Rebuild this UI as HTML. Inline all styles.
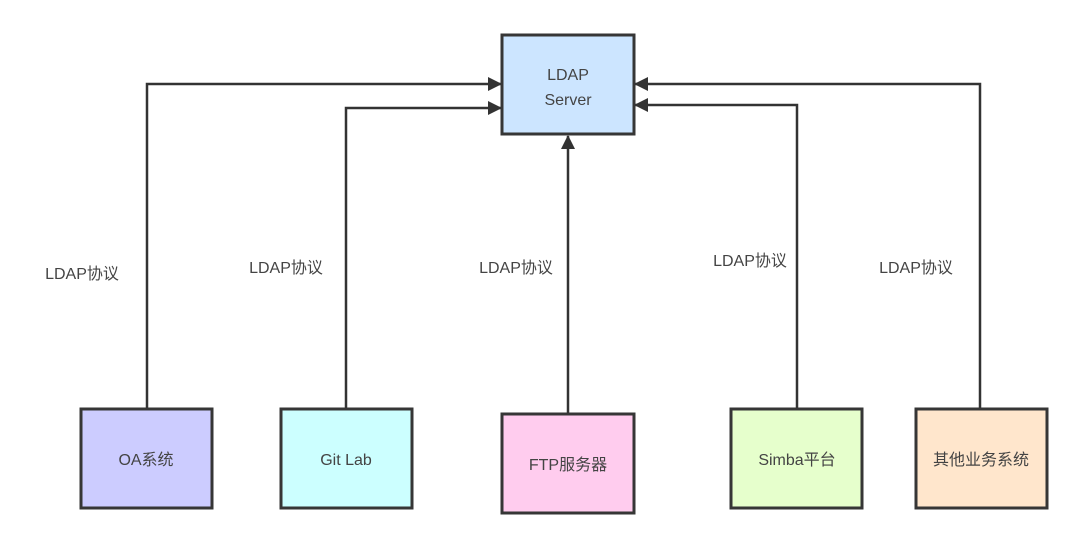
<!DOCTYPE html>
<html><head><meta charset="utf-8"><style>
body{margin:0;background:#fff;}
svg{display:block}
text{font-family:"Liberation Sans","Noto Sans CJK SC",sans-serif;font-size:16px;fill:#444;}
</style></head><body>
<svg width="1080" height="549" viewBox="0 0 1080 549">
<defs>
<marker id="b" viewBox="0 0 14 14" markerWidth="14" markerHeight="14" refX="13" refY="7" orient="auto" markerUnits="userSpaceOnUse"><path d="M0,0 L14,7 L0,14 Z" fill="#333"/></marker></defs>
<g stroke="#333" stroke-width="2.5" fill="none">
<path d="M147,409 V84 H501" marker-end="url(#b)"/>
<path d="M346,409 V108 H501" marker-end="url(#b)"/>
<path d="M568,413 V136" marker-end="url(#b)"/>
<path d="M797,409 V105 H635" marker-end="url(#b)"/>
<path d="M980,409 V84 H635" marker-end="url(#b)"/>
</g>
<g stroke="#363636" stroke-width="3">
<rect x="502" y="35" width="132" height="99" fill="#cce5ff"/>
<rect x="81" y="409" width="131" height="99" fill="#ccccff"/>
<rect x="281" y="409" width="131" height="99" fill="#ccffff"/>
<rect x="502" y="414" width="132" height="99" fill="#ffccee"/>
<rect x="731" y="409" width="131" height="99" fill="#e6ffcc"/>
<rect x="916" y="409" width="131" height="99" fill="#ffe6cc"/>
</g>
<g text-anchor="middle">
<text x="568" y="80">LDAP</text><text x="568" y="105">Server</text>
<text x="146" y="465">OA系统</text>
<text x="346" y="465">Git Lab</text>
<text x="568" y="470">FTP服务器</text>
<text x="797" y="465">Simba平台</text>
<text x="981" y="465">其他业务系统</text>
<text x="82" y="279">LDAP协议</text>
<text x="286" y="273">LDAP协议</text>
<text x="516" y="273">LDAP协议</text>
<text x="750" y="266">LDAP协议</text>
<text x="916" y="273">LDAP协议</text>
</g>
</svg>
</body></html>
